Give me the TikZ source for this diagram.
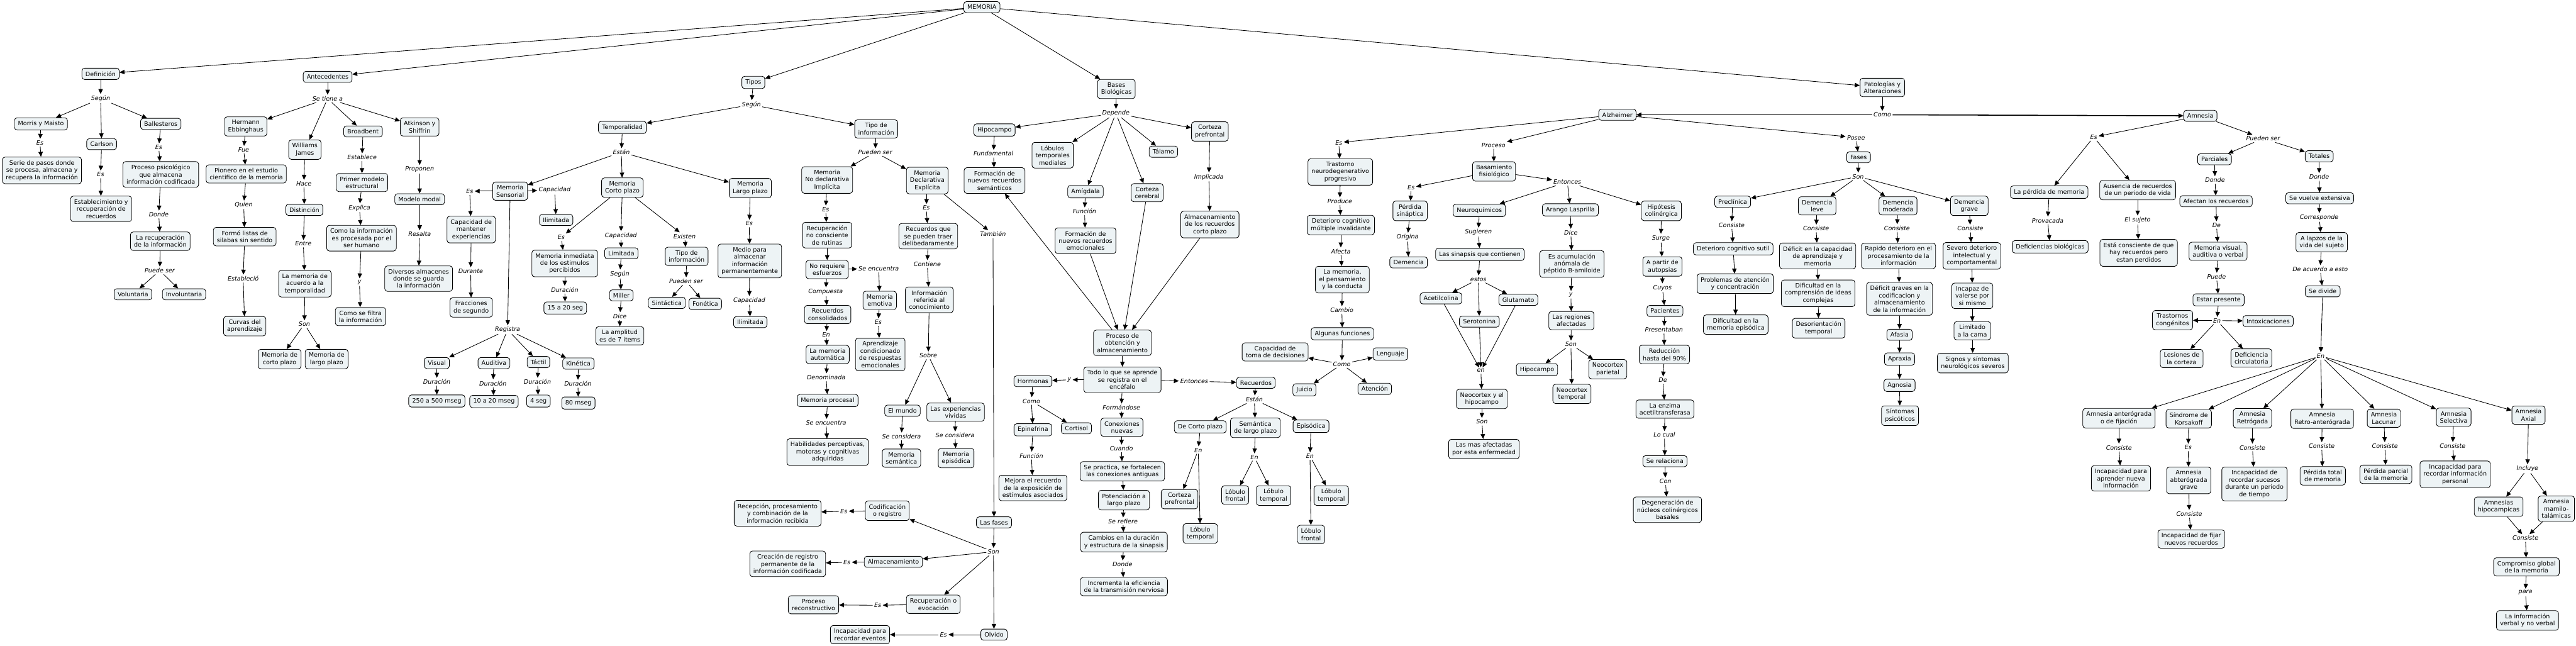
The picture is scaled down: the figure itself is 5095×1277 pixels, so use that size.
\documentclass[tikz,border=0pt]{standalone}
\usepackage{fontspec}
\setmainfont{DejaVu Sans}
\usetikzlibrary{arrows.meta}
\definecolor{cfill}{RGB}{237,243,245}
\tikzset{
 cpt/.style={draw=black, line width=0.6pt, fill=cfill, rounded corners=3pt, align=center, inner xsep=4pt, inner ysep=3.6pt, font=\fontsize{6.8}{8.1}\selectfont},
 lnk/.style={align=center, inner sep=1.5pt, font=\fontsize{6.8}{8.1}\selectfont\itshape},
 arr/.style={-{Triangle[length=5.6pt,width=5pt]}, line width=0.6pt},
 thickarr/.style={arr, line width=1.1pt}
}
\begin{document}
\begin{tikzpicture}[x=0.02cm,y=-0.02cm]
\useasboundingbox (0,0) rectangle (5095,1277);
% top
\node[cpt] (mem) at (1942,14) {MEMORIA};
\node[cpt] (def) at (199,146) {Definición};
\node[cpt] (ant) at (648,152) {Antecedentes};
\node[cpt] (tip) at (1490,163) {Tipos};
\node[cpt] (bas) at (2208,176) {Bases\\Biológicas};
\node[cpt] (pat) at (3723,173) {Patologías y\\Alteraciones};
% Definicion
\node[lnk] (Ldef) at (199,195) {Según};
\node[cpt] (morris) at (81,245) {Morris y Maisto};
\node[cpt] (carlson) at (201,285) {Carlson};
\node[cpt] (balle) at (318,245) {Ballesteros};
\node[lnk] (Lmor) at (79,282) {Es};
\node[cpt] (serie) at (83,337) {Serie de pasos donde\\se procesa, almacena y\\recupera la información};
\node[lnk] (Lcar) at (199,345) {Es};
\node[cpt] (estab) at (200,413) {Establecimiento y\\recuperación de\\recuerdos};
\node[lnk] (Lbal) at (314,291) {Es};
\node[cpt] (procp) at (318,345) {Proceso psicológico\\que almacena\\información codificada};
\node[lnk] (Ldon) at (314,424) {Donde};
\node[cpt] (larec) at (317,477) {La recuperación\\de la información};
\node[lnk] (Lpue) at (316,535) {Puede ser};
\node[cpt] (volun) at (263,582) {Voluntaria};
\node[cpt] (invol) at (364,582) {Involuntaria};
% Antecedentes
\node[lnk] (Lant) at (648,195) {Se tiene a};
\node[cpt] (herm) at (486,250) {Hermann\\Ebbinghaus};
\node[lnk] (Lfue) at (482,296) {Fue};
\node[cpt] (pion) at (487,344) {Pionero en el estudio\\cientifico de la memoria};
\node[lnk] (Lqui) at (482,405) {Quien};
\node[cpt] (form) at (484,468) {Formó listas de\\silabas sin sentido};
\node[lnk] (Lest) at (481,551) {Estableció};
\node[cpt] (curv) at (484,645) {Curvas del\\aprendizaje};
\node[cpt] (will) at (603,296) {Williams\\James};
\node[lnk] (Lhac) at (601,363) {Hace};
\node[cpt] (dist) at (602,415) {Distinción};
\node[lnk] (Lent) at (600,482) {Entre};
\node[cpt] (lamem) at (603,561) {La memoria de\\acuerdo a la\\temporalidad};
\node[lnk] (Lson1) at (602,641) {Son};
\node[cpt] (mcp) at (553,710) {Memoria de\\corto plazo};
\node[cpt] (mlp) at (646,710) {Memoria de\\largo plazo};
\node[cpt] (broad) at (718,260) {Broadbent};
\node[lnk] (Lesb) at (716,311) {Establece};
\node[cpt] (prim) at (716,361) {Primer modelo\\estructural};
\node[lnk] (Lexp) at (711,411) {Explica};
\node[cpt] (comoi) at (715,471) {Como la información\\es procesada por el\\ser humano};
\node[lnk] (Ly1) at (711,558) {y};
\node[cpt] (filt) at (713,626) {Como se filtra\\la información};
\node[cpt] (atk) at (830,251) {Atkinson y\\Shiffrin};
\node[lnk] (Lpro) at (830,335) {Proponen};
\node[cpt] (modal) at (830,394) {Modelo modal};
\node[lnk] (Lres) at (830,463) {Resalta};
\node[cpt] (diver) at (828,551) {Diversos almacenes\\donde se guarda\\la información};
% Tipos
\node[lnk] (Ltip) at (1486,207) {Según};
\node[cpt] (temp) at (1231,252) {Temporalidad};
\node[lnk] (Lesta) at (1229,301) {Están};
\node[cpt] (sens) at (1009,378) {Memoria\\Sensorial};
\node[lnk] (Lses) at (929,378) {Es};
\node[lnk] (Lsca) at (1097,376) {Capacidad};
\node[cpt] (ilimA) at (1100,435) {Ilimitada};
\node[cpt] (capm) at (932,454) {Capacidad de\\mantener\\experiencias};
\node[lnk] (Ldur) at (931,536) {Durante};
\node[cpt] (frac) at (932,608) {Fracciones\\de segundo};
\node[lnk] (Lreg) at (1004,652) {Registra};
\node[cpt] (vis) at (864,718) {Visual};
\node[lnk] (Ldv) at (864,755) {Duración};
\node[cpt] (vdur) at (864,793) {250 a 500 mseg};
\node[cpt] (aud) at (977,718) {Auditiva};
\node[lnk] (Lda) at (975,758) {Duración};
\node[cpt] (adur) at (977,794) {10 a 20 mseg};
\node[cpt] (tac) at (1065,716) {Táctil};
\node[lnk] (Ldt) at (1063,755) {Duración};
\node[cpt] (tdur) at (1065,793) {4 seg};
\node[cpt] (kin) at (1144,719) {Kinética};
\node[lnk] (Ldk) at (1143,759) {Duración};
\node[cpt] (kdur) at (1144,797) {80 mseg};
\node[cpt] (mcpl) at (1231,371) {Memoria\\Corto plazo};
\node[lnk] (Lces) at (1110,469) {Es};
\node[cpt] (inm) at (1117,521) {Memoria inmediata\\de los estimulos\\percibidos};
\node[lnk] (Lcdu) at (1117,573) {Duración};
\node[cpt] (s15) at (1118,609) {15 a 20 seg};
\node[lnk] (Lcca) at (1228,466) {Capacidad};
\node[cpt] (limi) at (1229,501) {Limitada};
\node[lnk] (Lcsg) at (1226,542) {Según};
\node[cpt] (mill) at (1229,584) {Miller};
\node[lnk] (Ldic) at (1226,625) {Dice};
\node[cpt] (ampl) at (1226,664) {La amplitud\\es de 7 items};
\node[lnk] (Lexi) at (1354,467) {Existen};
\node[cpt] (tinf) at (1358,507) {Tipo de\\información};
\node[lnk] (Lpse) at (1357,556) {Pueden ser};
\node[cpt] (sint) at (1319,599) {Sintáctica};
\node[cpt] (fone) at (1395,601) {Fonética};
\node[cpt] (mlpl) at (1484,372) {Memoria\\Largo plazo};
\node[lnk] (Lles) at (1482,442) {Es};
\node[cpt] (medio) at (1483,516) {Medio para\\almacenar\\información\\permanentemente};
\node[lnk] (Llca) at (1482,594) {Capacidad};
\node[cpt] (ilimB) at (1484,637) {Ilimitada};
\node[cpt] (tinfB) at (1733,255) {Tipo de\\información};
\node[lnk] (Lpse2) at (1731,301) {Pueden ser};
\node[cpt] (nodec) at (1636,356) {Memoria\\No declarativa\\Implícita};
\node[cpt] (dec) at (1834,357) {Memoria\\Declarativa\\Explícita};
\node[lnk] (Lnes) at (1633,414) {Es};
\node[cpt] (rnc) at (1636,465) {Recuperación\\no consciente\\de rutinas};
\node[cpt] (noreq) at (1636,533) {No requiere\\esfuerzos};
\node[lnk] (Lsen) at (1738,531) {Se encuentra};
\node[cpt] (emot) at (1740,594) {Memoria\\emotiva};
\node[lnk] (Lees) at (1737,637) {Es};
\node[cpt] (aprc) at (1741,701) {Aprendizaje\\condicionado\\de respuestas\\emocionales};
\node[lnk] (Lcom) at (1633,577) {Compuesta};
\node[cpt] (rcons) at (1637,622) {Recuerdos\\consolidados};
\node[lnk] (Len1) at (1634,662) {En};
\node[cpt] (mauto) at (1637,701) {La memoria\\automática};
\node[lnk] (Lden) at (1634,746) {Denominada};
\node[cpt] (mproc) at (1637,792) {Memoria procesal};
\node[lnk] (Lsen2) at (1634,836) {Se encuentra};
\node[cpt] (habil) at (1637,894) {Habilidades perceptivas,\\motoras y cognitivas\\adquiridas};
\node[lnk] (Ldes) at (1832,411) {Es};
\node[cpt] (rqsp) at (1836,467) {Recuerdos que\\se pueden traer\\delibedaramente};
\node[lnk] (Lcont) at (1834,522) {Contiene};
\node[cpt] (iref) at (1838,593) {Información\\referida al\\conocimiento};
\node[lnk] (Lsob) at (1836,703) {Sobre};
\node[cpt] (mundo) at (1785,812) {El mundo};
\node[lnk] (Lsc1) at (1783,863) {Se considera};
\node[cpt] (msem) at (1783,906) {Memoria\\semántica};
\node[cpt] (expv) at (1890,815) {Las experiencias\\vividas};
\node[lnk] (Lsc2) at (1889,861) {Se considera};
\node[cpt] (mepi) at (1891,906) {Memoria\\episódica};
\node[lnk] (Ltam) at (1964,463) {También};
\node[cpt] (fases) at (1966,1033) {Las fases};
\node[lnk] (Lson2) at (1965,1091) {Son};
\node[cpt] (codif) at (1755,1010) {Codificación\\o registro};
\node[lnk] (Lces2) at (1669,1011) {Es};
\node[cpt] (recep) at (1538,1015) {Recepción, procesamiento\\y combinación de la\\información recibida};
\node[cpt] (almac) at (1767,1111) {Almacenamiento};
\node[lnk] (Laes) at (1675,1112) {Es};
\node[cpt] (creac) at (1558,1115) {Creación de registro\\permanente de la\\información codificada};
\node[cpt] (recup) at (1846,1195) {Recuperación o\\evocación};
\node[lnk] (Lres2) at (1736,1197) {Es};
\node[cpt] (prec) at (1609,1196) {Proceso\\reconstructivo};
\node[cpt] (olv) at (1966,1255) {Olvido};
\node[lnk] (Loes) at (1866,1255) {Es};
\node[cpt] (incr) at (1701,1255) {Incapacidad para\\recordar eventos};
% Bases
\node[lnk] (Ldep) at (2207,224) {Depende};
\node[cpt] (hipo) at (1967,257) {Hipocampo};
\node[lnk] (Lfun) at (1965,304) {Fundamental};
\node[cpt] (fsem) at (1967,357) {Formación de\\nuevos recuerdos\\semánticos};
\node[cpt] (lob) at (2082,307) {Lóbulos\\temporales\\mediales};
\node[cpt] (amig) at (2147,379) {Amígdala};
\node[lnk] (Lfunc) at (2145,418) {Función};
\node[cpt] (femo) at (2147,476) {Formación de\\nuevos recuerdos\\emocionales};
\node[cpt] (ccer) at (2269,381) {Corteza\\cerebral};
\node[cpt] (tal) at (2301,300) {Tálamo};
\node[cpt] (cpre) at (2393,260) {Corteza\\prefrontal};
\node[lnk] (Limp) at (2391,350) {Implicada};
\node[cpt] (alm2) at (2393,444) {Almacenamiento\\de los recuerdos\\corto plazo};
\node[cpt] (pobt) at (2220,678) {Proceso de\\obtención y\\almacenamiento};
\node[cpt] (todo) at (2220,751) {Todo lo que se aprende\\se registra en el\\encéfalo};
\node[lnk] (Ly2) at (2115,751) {y};
\node[cpt] (horm) at (2043,754) {Hormonas};
\node[lnk] (Lcomo1) at (2040,793) {Como};
\node[cpt] (epi) at (2043,850) {Epinefrina};
\node[cpt] (cort) at (2129,847) {Cortisol};
\node[lnk] (Lfunc2) at (2040,901) {Función};
\node[cpt] (mejo) at (2043,965) {Mejora el recuerdo\\de la exposición de\\estímulos asociados};
\node[lnk] (Lformd) at (2218,806) {Formándose};
\node[cpt] (conx) at (2219,845) {Conexiones\\nuevas};
\node[lnk] (Lcuan) at (2218,887) {Cuando};
\node[cpt] (sepr) at (2220,932) {Se practica, se fortalecen\\las conexiones antiguas};
\node[cpt] (pot) at (2223,989) {Potenciación a\\largo plazo};
\node[lnk] (Lsref) at (2221,1031) {Se refiere};
\node[cpt] (camb) at (2223,1072) {Cambios en la duración\\y estructura de la sinapsis};
\node[lnk] (Ldond2) at (2220,1116) {Donde};
\node[cpt] (incre) at (2223,1160) {Incrementa la eficiencia\\de la transmisión nerviosa};
\node[lnk] (Lento) at (2362,754) {Entonces};
\node[cpt] (recu) at (2484,757) {Recuerdos};
\node[lnk] (Lesta2) at (2481,790) {Están};
\node[cpt] (dcp) at (2374,844) {De Corto plazo};
\node[lnk] (Len2) at (2370,890) {En};
\node[cpt] (cpre2) at (2333,987) {Corteza\\prefrontal};
\node[cpt] (ltem1) at (2374,1055) {Lóbulo\\temporal};
\node[cpt] (seml) at (2483,846) {Semántica\\de largo plazo};
\node[lnk] (Len3) at (2481,904) {En};
\node[cpt] (lfro1) at (2443,979) {Lóbulo\\frontal};
\node[cpt] (ltem2) at (2519,980) {Lóbulo\\temporal};
\node[cpt] (episo) at (2593,843) {Episódica};
\node[lnk] (Len4) at (2591,902) {En};
\node[cpt] (ltem3) at (2633,980) {Lóbulo\\temporal};
\node[cpt] (lfro2) at (2593,1057) {Lóbulo\\frontal};
\node[cpt] (ctd) at (2522,696) {Capacidad de\\toma de decisiones};
% Alzheimer
\node[cpt] (alz) at (3199,227) {Alzheimer};
\node[lnk] (Lcomo) at (3723,227) {Como};
\node[cpt] (amn) at (4352,229) {Amnesia};
\node[lnk] (Laes2) at (2648,282) {Es};
\node[cpt] (tras) at (2651,340) {Trastorno\\neurodegenerativo\\progresivo};
\node[lnk] (Lprod) at (2650,398) {Produce};
\node[cpt] (deter) at (2652,445) {Deterioro cognitivo\\múltiple invalidante};
\node[lnk] (Lafe) at (2652,497) {Afecta};
\node[cpt] (lamem2) at (2655,553) {La memoria,\\el pensamiento\\y la conducta};
\node[lnk] (Lcam) at (2654,613) {Cambio};
\node[cpt] (algf) at (2655,660) {Algunas funciones};
\node[lnk] (Lcomo2) at (2654,720) {Como};
\node[cpt] (leng) at (2750,700) {Lenguaje};
\node[cpt] (juic) at (2580,771) {Juicio};
\node[cpt] (aten) at (2719,769) {Atención};
\node[lnk] (Lproc) at (2954,287) {Proceso};
\node[cpt] (basa) at (2955,339) {Basamiento\\fisiológico};
\node[lnk] (Lbes) at (2791,371) {Es};
\node[cpt] (psin) at (2789,417) {Pérdida\\sináptica};
\node[lnk] (Lori) at (2784,469) {Origina};
\node[cpt] (demen) at (2786,519) {Demencia};
\node[lnk] (Lento2) at (3100,360) {Entonces};
\node[cpt] (neuq) at (2926,416) {Neuroquímicos};
\node[lnk] (Lsug) at (2924,459) {Sugieren};
\node[cpt] (sinap) at (2927,503) {Las sinapsis que contienen};
\node[lnk] (Lest2) at (2924,552) {estos};
\node[cpt] (acet) at (2850,590) {Acetilcolina};
\node[cpt] (glut) at (3003,593) {Glutamato};
\node[cpt] (sero) at (2926,636) {Serotonina};
\node[lnk] (Len5) at (2929,733) {en};
\node[cpt] (neoh) at (2931,789) {Neocortex y el\\hipocampo};
\node[lnk] (Lson3) at (2931,834) {Son};
\node[cpt] (masa) at (2935,888) {Las mas afectadas\\por esta enfermedad};
\node[cpt] (arang) at (3106,415) {Arango Lasprilla};
\node[lnk] (Ldic2) at (3107,460) {Dice};
\node[cpt] (acum) at (3109,522) {Es acumulación\\anómala de\\péptido B-amiloide};
\node[lnk] (Ly3) at (3107,583) {y};
\node[cpt] (regi) at (3108,634) {Las regiones\\afectadas};
\node[lnk] (Lson4) at (3107,681) {Son};
\node[cpt] (hipo2) at (3040,731) {Hipocampo};
\node[cpt] (neot) at (3109,779) {Neocortex\\temporal};
\node[cpt] (neop) at (3180,730) {Neocortex\\parietal};
\node[cpt] (hipc) at (3286,417) {Hipótesis\\colinérgica};
\node[lnk] (Lsur) at (3285,471) {Surge};
\node[cpt] (apar) at (3288,527) {A partir de\\autopsias};
\node[lnk] (Lcuy) at (3288,569) {Cuyos};
\node[cpt] (paci) at (3293,615) {Pacientes};
\node[lnk] (Lpres) at (3291,652) {Presentaban};
\node[cpt] (redu) at (3292,701) {Reducción\\hasta del 90\%};
\node[lnk] (Lde1) at (3289,752) {De};
\node[cpt] (enzi) at (3293,809) {La enzima\\acetiltransferasa};
\node[lnk] (Lloc) at (3292,860) {Lo cual};
\node[cpt] (serel) at (3293,912) {Se relaciona};
\node[lnk] (Lcon) at (3294,952) {Con};
\node[cpt] (degen) at (3298,1008) {Degeneración de\\núcleos colinérgicos\\basales};
% Fases
\node[lnk] (Lpos) at (3671,272) {Posee};
\node[cpt] (fases2) at (3676,311) {Fases};
\node[lnk] (Lson5) at (3675,349) {Son};
\node[cpt] (prec2) at (3427,399) {Preclínica};
\node[lnk] (Lcprec) at (3425,445) {Consiste};
\node[cpt] (dsut) at (3428,492) {Deterioro cognitivo sutil};
\node[cpt] (prob) at (3432,561) {Problemas de atención\\y concentración};
\node[cpt] (difep) at (3433,642) {Dificultad en la\\memoria episódica};
\node[cpt] (dleve) at (3594,407) {Demencia\\leve};
\node[lnk] (Lcleve) at (3592,452) {Consiste};
\node[cpt] (defc) at (3595,506) {Déficit en la capacidad\\de aprendizaje y\\memoria};
\node[cpt] (difc) at (3596,580) {Dificultad en la\\comprensión de ideas\\complejas};
\node[cpt] (desor) at (3597,649) {Desorientación\\temporal};
\node[cpt] (dmod) at (3754,407) {Demencia\\moderada};
\node[lnk] (Lcmod) at (3752,451) {Consiste};
\node[cpt] (rapi) at (3755,506) {Rapido deterioro en el\\procesamiento de la\\información};
\node[cpt] (defg) at (3757,591) {Déficit graves en la\\codificacion y\\almacenamiento\\de la información};
\node[cpt] (afas) at (3757,662) {Afasia};
\node[cpt] (aprx) at (3757,710) {Apraxia};
\node[cpt] (agno) at (3757,762) {Agnosia};
\node[cpt] (sinps) at (3758,822) {Síntomas\\psicóticos};
\node[cpt] (dgrav) at (3895,407) {Demencia\\grave};
\node[lnk] (Lcgrav) at (3897,452) {Consiste};
\node[cpt] (seve) at (3900,506) {Severo deterioro\\intelectual y\\comportamental};
\node[cpt] (incap) at (3901,585) {Incapaz de\\valerse por\\si mismo};
\node[cpt] (limc) at (3901,654) {Limitado\\a la cama};
\node[cpt] (signo) at (3902,718) {Signos y síntomas\\neurológicos severos};
% Amnesia
\node[lnk] (Laes3) at (4141,271) {Es};
\node[cpt] (lpm) at (4053,380) {La pérdida de memoria};
\node[lnk] (Lprov) at (4050,436) {Provacada};
\node[cpt] (defb) at (4055,488) {Deficiencias biológicas};
\node[cpt] (ause) at (4228,376) {Ausencia de recuerdos\\de un periodo de vida};
\node[lnk] (Lsuj) at (4228,435) {El sujeto};
\node[cpt] (estc) at (4230,500) {Está consciente de que\\hay recuerdos pero\\estan perdidos};
\node[lnk] (Lpse3) at (4476,274) {Pueden ser};
\node[cpt] (parc) at (4380,315) {Parciales};
\node[lnk] (Ldparc) at (4381,356) {Donde};
\node[cpt] (afec) at (4383,398) {Afectan los recuerdos};
\node[lnk] (Lde2) at (4384,445) {De};
\node[cpt] (mvis) at (4387,497) {Memoria visual,\\auditiva o verbal};
\node[lnk] (Lpue2) at (4384,547) {Puede};
\node[cpt] (estp) at (4388,593) {Estar presente};
\node[lnk] (Len6) at (4385,634) {En};
\node[cpt] (trac) at (4297,633) {Trastornos\\congénitos};
\node[cpt] (intox) at (4486,635) {Intoxicaciones};
\node[cpt] (lesi) at (4315,709) {Lesiones de\\la corteza};
\node[cpt] (defcir) at (4453,708) {Deficiencia\\circulatoria};
\node[cpt] (tot) at (4587,309) {Totales};
\node[lnk] (Ldtot) at (4587,350) {Donde};
\node[cpt] (sevu) at (4588,392) {Se vuelve extensiva};
\node[lnk] (Lcorr) at (4587,430) {Corresponde};
\node[cpt] (alap) at (4592,479) {A lapzos de la\\vida del sujeto};
\node[lnk] (Ldeac) at (4589,532) {De acuerdo a esto};
\node[cpt] (sediv) at (4594,576) {Se divide};
\node[lnk] (Len7) at (4590,704) {En};
\node[cpt] (aant) at (4191,827) {Amnesia anterógrada\\o de fijación};
\node[lnk] (Lcant) at (4191,885) {Consiste};
\node[cpt] (iapr) at (4195,946) {Incapacidad para\\aprender nueva\\información};
\node[cpt] (kors) at (4329,828) {Síndrome de\\Korsakoff};
\node[lnk] (Lkes) at (4328,885) {Es};
\node[cpt] (aabt) at (4329,950) {Amnesia\\abterógrada\\grave};
\node[lnk] (Lckor) at (4330,1016) {Consiste};
\node[cpt] (ifij) at (4334,1066) {Incapacidad de fijar\\nuevos recuerdos};
\node[cpt] (aret) at (4455,827) {Amnesia\\Retrógada};
\node[lnk] (Lcret) at (4455,885) {Consiste};
\node[cpt] (irec) at (4459,957) {Incapacidad de\\recordar sucesos\\durante un periodo\\de tiempo};
\node[cpt] (araa) at (4593,828) {Amnesia\\Retro-anterógrada};
\node[lnk] (Lcraa) at (4592,882) {Consiste};
\node[cpt] (ptot) at (4594,941) {Pérdida total\\de memoria};
\node[cpt] (alac) at (4715,827) {Amnesia\\Lacunar};
\node[lnk] (Lclac) at (4717,882) {Consiste};
\node[cpt] (ppar) at (4719,938) {Pérdida parcial\\de la memoria};
\node[cpt] (asel) at (4853,825) {Amnesia\\Selectiva};
\node[lnk] (Lcsel) at (4851,882) {Consiste};
\node[cpt] (irip) at (4856,938) {Incapacidad para\\recordar información\\personal};
\node[cpt] (aaxi) at (5001,821) {Amnesia\\Axial};
\node[lnk] (Linc) at (4999,927) {Incluye};
\node[cpt] (ahip) at (4942,1002) {Amnesias\\hipocampicas};
\node[cpt] (amam) at (5056,1006) {Amnesia\\mamilo-\\talámicas};
\node[lnk] (Lcaxi) at (4995,1064) {Consiste};
\node[cpt] (comp) at (4997,1121) {Compromiso global\\de la memoria};
\node[lnk] (Lpara) at (4995,1172) {para};
\node[cpt] (linf) at (4999,1227) {La información\\verbal y no verbal};
% connectors
\foreach \a/\b in {Lcomo/alz, Lcomo/amn}
{\draw[thickarr] (\a) -- (\b);}
\foreach \a/\b in {mem/def, mem/ant, mem/tip, mem/bas, mem/pat,
def/Ldef, Ldef/morris, Ldef/carlson, Ldef/balle,
morris/Lmor, Lmor/serie, carlson/Lcar, Lcar/estab, balle/Lbal, Lbal/procp, procp/Ldon, Ldon/larec, larec/Lpue, Lpue/volun, Lpue/invol,
ant/Lant, Lant/herm, Lant/will, Lant/broad, Lant/atk,
herm/Lfue, Lfue/pion, pion/Lqui, Lqui/form, form/Lest, Lest/curv,
will/Lhac, Lhac/dist, dist/Lent, Lent/lamem, lamem/Lson1, Lson1/mcp, Lson1/mlp,
broad/Lesb, Lesb/prim, prim/Lexp, Lexp/comoi, comoi/Ly1, Ly1/filt,
atk/Lpro, Lpro/modal, modal/Lres, Lres/diver,
tip/Ltip, Ltip/temp, Ltip/tinfB,
temp/Lesta, Lesta/sens, Lesta/mcpl, Lesta/mlpl,
sens/Lses, Lses/capm, capm/Ldur, Ldur/frac,
sens/Lsca, Lsca/ilimA,
sens/Lreg, Lreg/vis, Lreg/aud, Lreg/tac, Lreg/kin,
vis/Ldv, Ldv/vdur, aud/Lda, Lda/adur, tac/Ldt, Ldt/tdur, kin/Ldk, Ldk/kdur,
mcpl/Lces, Lces/inm, inm/Lcdu, Lcdu/s15,
mcpl/Lcca, Lcca/limi, limi/Lcsg, Lcsg/mill, mill/Ldic, Ldic/ampl,
mcpl/Lexi, Lexi/tinf, tinf/Lpse, Lpse/sint, Lpse/fone,
mlpl/Lles, Lles/medio, medio/Llca, Llca/ilimB,
tinfB/Lpse2, Lpse2/nodec, Lpse2/dec,
nodec/Lnes, Lnes/rnc, rnc/noreq, noreq/Lsen, Lsen/emot, emot/Lees, Lees/aprc,
noreq/Lcom, Lcom/rcons, rcons/Len1, Len1/mauto, mauto/Lden, Lden/mproc, mproc/Lsen2, Lsen2/habil,
dec/Ldes, Ldes/rqsp, rqsp/Lcont, Lcont/iref, iref/Lsob, Lsob/mundo, Lsob/expv, mundo/Lsc1, Lsc1/msem, expv/Lsc2, Lsc2/mepi,
dec/Ltam, Ltam/fases, fases/Lson2, Lson2/codif, Lson2/almac, Lson2/recup, Lson2/olv,
codif/Lces2, Lces2/recep, almac/Laes, Laes/creac, recup/Lres2, Lres2/prec, olv/Loes, Loes/incr,
bas/Ldep, Ldep/hipo, Ldep/lob, Ldep/amig, Ldep/ccer, Ldep/tal, Ldep/cpre,
hipo/Lfun, Lfun/fsem, amig/Lfunc, Lfunc/femo, femo/pobt, ccer/pobt, cpre/Limp, Limp/alm2, alm2/pobt, pobt/fsem,
pobt/todo, todo/Ly2, Ly2/horm, horm/Lcomo1, Lcomo1/epi, Lcomo1/cort, epi/Lfunc2, Lfunc2/mejo,
todo/Lformd, Lformd/conx, conx/Lcuan, Lcuan/sepr, sepr/pot, pot/Lsref, Lsref/camb, camb/Ldond2, Ldond2/incre,
todo/Lento, Lento/recu, recu/Lesta2, Lesta2/dcp, Lesta2/seml, Lesta2/episo,
dcp/Len2, Len2/cpre2, Len2/ltem1, seml/Len3, Len3/lfro1, Len3/ltem2, episo/Len4, Len4/ltem3, Len4/lfro2,
pat/Lcomo,
alz/Laes2, Laes2/tras, tras/Lprod, Lprod/deter, deter/Lafe, Lafe/lamem2, lamem2/Lcam, Lcam/algf, algf/Lcomo2, Lcomo2/ctd, Lcomo2/leng, Lcomo2/juic, Lcomo2/aten,
alz/Lproc, Lproc/basa, basa/Lbes, Lbes/psin, psin/Lori, Lori/demen,
basa/Lento2, Lento2/neuq, Lento2/arang, Lento2/hipc,
neuq/Lsug, Lsug/sinap, sinap/Lest2, Lest2/acet, Lest2/sero, Lest2/glut, acet/Len5, sero/Len5, glut/Len5, Len5/neoh, neoh/Lson3, Lson3/masa,
arang/Ldic2, Ldic2/acum, acum/Ly3, Ly3/regi, regi/Lson4, Lson4/hipo2, Lson4/neot, Lson4/neop,
hipc/Lsur, Lsur/apar, apar/Lcuy, Lcuy/paci, paci/Lpres, Lpres/redu, redu/Lde1, Lde1/enzi, enzi/Lloc, Lloc/serel, serel/Lcon, Lcon/degen,
alz/Lpos, Lpos/fases2, fases2/Lson5, Lson5/prec2, Lson5/dleve, Lson5/dmod, Lson5/dgrav,
prec2/Lcprec, Lcprec/dsut, dsut/prob, prob/difep,
dleve/Lcleve, Lcleve/defc, defc/difc, difc/desor,
dmod/Lcmod, Lcmod/rapi, rapi/defg, defg/afas, afas/aprx, aprx/agno, agno/sinps,
dgrav/Lcgrav, Lcgrav/seve, seve/incap, incap/limc, limc/signo,
amn/Laes3, Laes3/lpm, Laes3/ause, lpm/Lprov, Lprov/defb, ause/Lsuj, Lsuj/estc,
amn/Lpse3, Lpse3/parc, Lpse3/tot,
parc/Ldparc, Ldparc/afec, afec/Lde2, Lde2/mvis, mvis/Lpue2, Lpue2/estp, estp/Len6, Len6/trac, Len6/intox, Len6/lesi, Len6/defcir,
tot/Ldtot, Ldtot/sevu, sevu/Lcorr, Lcorr/alap, alap/Ldeac, Ldeac/sediv, sediv/Len7,
Len7/aant, Len7/kors, Len7/aret, Len7/araa, Len7/alac, Len7/asel, Len7/aaxi,
aant/Lcant, Lcant/iapr, kors/Lkes, Lkes/aabt, aabt/Lckor, Lckor/ifij,
aret/Lcret, Lcret/irec, araa/Lcraa, Lcraa/ptot, alac/Lclac, Lclac/ppar, asel/Lcsel, Lcsel/irip,
aaxi/Linc, Linc/ahip, Linc/amam, ahip/Lcaxi, amam/Lcaxi, Lcaxi/comp, comp/Lpara, Lpara/linf}
{\draw[arr] (\a) -- (\b);}
\end{tikzpicture}
\end{document}
